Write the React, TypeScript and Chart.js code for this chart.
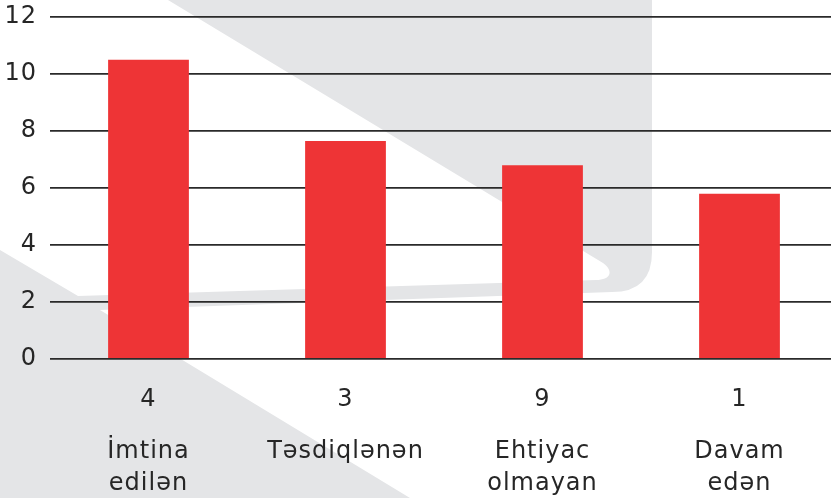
import React, { useEffect, useRef } from "react";
import { Chart, registerables } from "chart.js";

Chart.register(...registerables);

const counts: string[] = ["4", "3", "9", "1"];
const categories: (string | string[])[] = [
  ["İmtina", "edilən"],
  "Təsdiqlənən",
  ["Ehtiyac", "olmayan"],
  ["Davam", "edən"],
];
const values: number[] = [10.5, 7.65, 6.8, 5.8];
const yTicks: number[] = [0, 2, 4, 6, 8, 10, 12];

const FONT = "'DejaVu Sans'";
const TEXT = "#262626";

const backgroundShape = {
  id: "backgroundShape",
  beforeDraw(chart: any) {
    const ctx = chart.ctx as CanvasRenderingContext2D;
    ctx.save();
    ctx.fillStyle = "#E4E5E7";
    ctx.beginPath();
    ctx.moveTo(168, 0);
    ctx.lineTo(652, 0);
    ctx.lineTo(652, 252);
    ctx.quadraticCurveTo(652, 292, 612, 292);
    ctx.lineTo(100, 310);
    ctx.lineTo(410, 498);
    ctx.lineTo(0, 498);
    ctx.lineTo(0, 250);
    ctx.lineTo(78, 296);
    ctx.lineTo(596, 280);
    ctx.bezierCurveTo(611, 280, 614, 271, 603, 263);
    ctx.closePath();
    ctx.fill();
    ctx.restore();
    (ctx as any).letterSpacing = "1px";
  },
};

export default function App() {
  const ref = useRef<HTMLCanvasElement | null>(null);

  useEffect(() => {
    if (!ref.current) return;
    const chart = new Chart(ref.current, {
      type: "bar",
      data: {
        labels: counts,
        datasets: [
          {
            data: values,
            backgroundColor: "#EE3436",
            borderWidth: 0,
            barPercentage: 0.41,
            categoryPercentage: 1,
          },
        ],
      },
      options: {
        responsive: false,
        animation: false,
        devicePixelRatio: 1,
        layout: { padding: { top: 17, right: 2, bottom: 0, left: 0 } },
        plugins: {
          legend: { display: false },
          tooltip: { enabled: false },
        },
        scales: {
          x: {
            position: "bottom",
            weight: 0,
            grid: { display: false, drawTicks: false },
            border: { display: false },
            ticks: {
              color: TEXT,
              font: { family: FONT, size: 24 },
              padding: 26,
              maxRotation: 0,
            },
            afterFit(scale: any) {
              scale.height = 68;
            },
          },
          x2: {
            type: "category",
            position: "bottom",
            weight: 1,
            labels: categories as any,
            grid: { display: false, drawTicks: false },
            border: { display: false },
            ticks: {
              color: TEXT,
              font: { family: FONT, size: 24, lineHeight: 1.3333 },
              padding: 9,
              maxRotation: 0,
              autoSkip: false,
            },
            afterFit(scale: any) {
              scale.height = 71;
            },
          },
          y: {
            min: 0,
            max: 12,
            grid: { color: "#2a2a2a", lineWidth: 1.8, drawTicks: false },
            border: { display: false },
            afterBuildTicks(scale: any) {
              scale.ticks = yTicks.map((v) => ({ value: v }));
            },
            ticks: {
              color: TEXT,
              font: { family: FONT, size: 24 },
              padding: 13,
            },
            afterFit(scale: any) {
              scale.width = 50;
              scale.paddingTop = 0;
              scale.paddingBottom = 0;
            },
          },
        },
      } as any,
      plugins: [backgroundShape],
    });
    return () => chart.destroy();
  }, []);

  return (
    <div style={{ position: "fixed", left: 0, top: 0, width: 840, height: 498 }}>
      <canvas ref={ref} width={840} height={498} style={{ display: "block" }} />
    </div>
  );
}
